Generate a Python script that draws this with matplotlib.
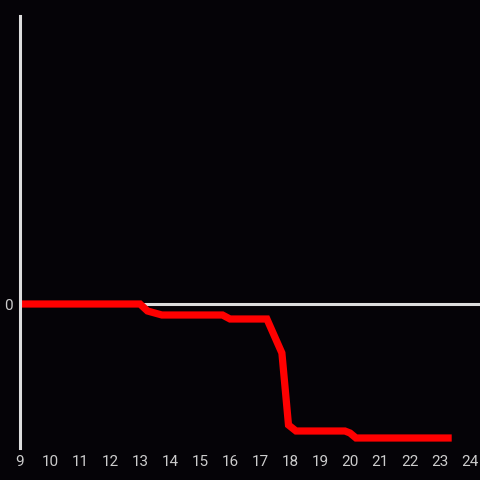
import matplotlib
matplotlib.use("Agg")
import matplotlib.pyplot as plt

# values
hours = [9.0, 13.0, 13.25, 13.73, 15.75, 16.0, 17.23, 17.73, 17.95, 18.2, 19.83, 20.0, 20.2, 23.27]
values = [0, 0, -7, -11, -11, -15, -15, -49, -121, -127, -127, -129, -134, -134]
xticks = list(range(9, 25))

bg = "#050307"
fig = plt.figure(figsize=(4.8, 4.8), dpi=100, facecolor=bg)
ax = fig.add_axes([20 / 480, 32 / 480, 460 / 480, 432 / 480], facecolor=bg)

ax.axhline(0, color="#dddddd", lw=2.2, zorder=1)
ax.plot(hours, values, color="#ff0000", lw=5.2, solid_joinstyle="miter", zorder=2)

ax.set_xlim(9, 9 + 460 / 30)
ax.set_ylim(-144, 288)
ax.set_xticks(xticks)
ax.set_yticks([0])
for s in ["top", "right", "bottom"]:
    ax.spines[s].set_visible(False)
ax.spines["left"].set_color("#dddddd")
ax.spines["left"].set_linewidth(2.2)
ax.tick_params(length=0, colors="#cccccc", labelsize=11, pad=5)
for lab in ax.get_xticklabels() + ax.get_yticklabels():
    lab.set_family("Roboto")

fig.savefig("out.png", facecolor=bg)
